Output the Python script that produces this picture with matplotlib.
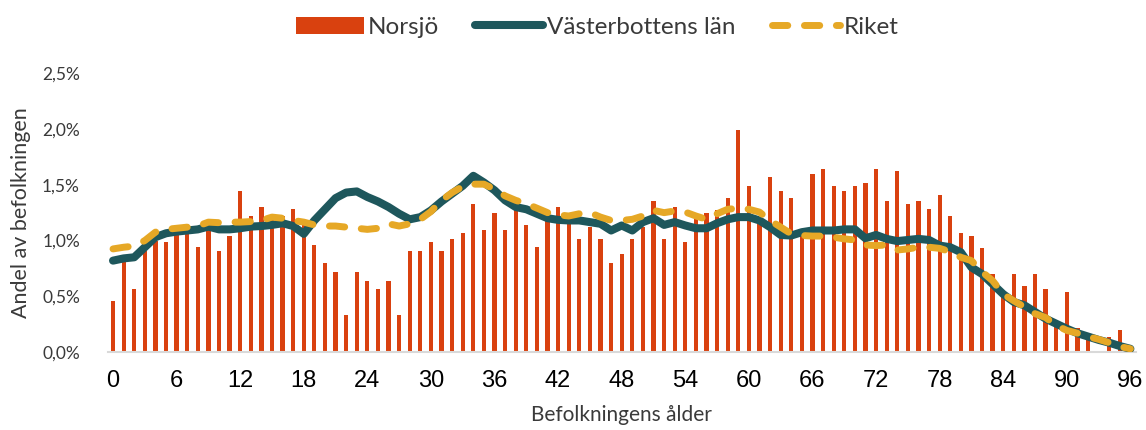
import matplotlib.pyplot as plt
from matplotlib.ticker import FuncFormatter

plt.rcParams.update({
    "font.family": ["Lato", "DejaVu Sans"],
})

RED = "#D9410F"
TEAL = "#1E575C"
GOLD = "#E6A826"
TEXT = "#3A3A3A"

ages = list(range(97))

# andel av befolkningen i procent, per ålder 0-96
norsjo = [
    0.46, 0.81, 0.565, 0.91, 1.00, 0.985, 1.06, 1.08, 0.94, 1.11,
    0.91, 1.04, 1.44, 1.22, 1.30, 1.21, 1.22, 1.28, 1.15, 0.96,
    0.80, 0.72, 0.33, 0.72, 0.64, 0.565, 0.64, 0.33, 0.91, 0.91,
    0.985, 0.91, 1.015, 1.065, 1.33, 1.095, 1.25, 1.095, 1.27, 1.14,
    0.94, 1.20, 1.30, 1.20, 1.015, 1.12, 1.015, 0.80, 0.88, 1.015,
    1.12, 1.355, 1.015, 1.30, 0.985, 1.25, 1.25, 1.27, 1.38, 1.99,
    1.485, 1.20, 1.565, 1.44, 1.38, 1.05, 1.595, 1.645, 1.485, 1.44,
    1.485, 1.515, 1.645, 1.355, 1.62, 1.33, 1.355, 1.28, 1.41, 1.22,
    1.065, 1.04, 0.935, 0.70, 0.55, 0.70, 0.59, 0.70, 0.565, 0.25,
    0.54, 0.22, 0.17, 0.0, 0.14, 0.195, 0.03,
]

vasterbotten = [
    0.82, 0.84, 0.85, 0.94, 1.03, 1.065, 1.08, 1.09, 1.10, 1.125,
    1.10, 1.10, 1.11, 1.125, 1.13, 1.14, 1.155, 1.13, 1.06, 1.18,
    1.28, 1.38, 1.43, 1.44, 1.39, 1.35, 1.30, 1.24, 1.19, 1.21,
    1.27, 1.35, 1.42, 1.49, 1.58, 1.52, 1.45, 1.36, 1.30, 1.28,
    1.24, 1.20, 1.185, 1.18, 1.18, 1.165, 1.15, 1.09, 1.135, 1.09,
    1.165, 1.20, 1.14, 1.165, 1.135, 1.11, 1.11, 1.155, 1.19, 1.21,
    1.21, 1.18, 1.12, 1.05, 1.045, 1.075, 1.09, 1.09, 1.09, 1.10,
    1.10, 1.02, 1.05, 1.015, 0.995, 1.005, 1.015, 1.005, 0.955, 0.94,
    0.895, 0.76, 0.70, 0.61, 0.52, 0.45, 0.42, 0.36, 0.30, 0.255,
    0.21, 0.17, 0.14, 0.11, 0.085, 0.055, 0.03,
]

riket = [
    0.925, 0.94, 0.95, 1.00, 1.075, 1.10, 1.11, 1.12, 1.13, 1.165,
    1.16, 1.165, 1.165, 1.17, 1.18, 1.21, 1.20, 1.18, 1.165, 1.14,
    1.13, 1.13, 1.12, 1.11, 1.10, 1.11, 1.15, 1.13, 1.15, 1.19,
    1.26, 1.36, 1.43, 1.485, 1.505, 1.505, 1.46, 1.40, 1.36, 1.33,
    1.29, 1.25, 1.23, 1.22, 1.24, 1.25, 1.21, 1.18, 1.18, 1.19,
    1.22, 1.27, 1.25, 1.265, 1.255, 1.22, 1.19, 1.24, 1.28, 1.29,
    1.28, 1.255, 1.18, 1.12, 1.06, 1.045, 1.04, 1.04, 1.03, 1.015,
    1.005, 0.96, 0.955, 0.96, 0.915, 0.925, 0.94, 0.94, 0.93, 0.90,
    0.85, 0.82, 0.72, 0.64, 0.52, 0.46, 0.405, 0.345, 0.31, 0.24,
    0.195, 0.17, 0.14, 0.115, 0.085, 0.05, 0.03,
]

fig = plt.figure(figsize=(11.46, 4.30), dpi=100)
ax = fig.add_axes([0.094, 0.181, 0.897, 0.649])

bars = ax.bar(ages, norsjo, width=0.4, color=RED, label="Norsjö", zorder=2)
(lv,) = ax.plot(ages, vasterbotten, color=TEAL, linewidth=5.8, solid_capstyle="round",
                solid_joinstyle="round", label="Västerbottens län", zorder=3)
(lr,) = ax.plot(ages, riket, color=GOLD, linewidth=5.0, dashes=(2.2, 2.4),
                dash_capstyle="round", label="Riket", zorder=4)

ax.set_xlim(-0.5, 96.5)
ax.set_ylim(0, 2.5)
ax.set_xticks(range(0, 97, 6))
ax.set_yticks([0, 0.5, 1.0, 1.5, 2.0, 2.5])
ax.yaxis.set_major_formatter(FuncFormatter(lambda v, _: f"{v:.1f}%".replace(".", ",")))

for side in ["top", "right", "left"]:
    ax.spines[side].set_visible(False)
ax.spines["bottom"].set_color("#D9D9D9")
ax.spines["bottom"].set_linewidth(1.5)
ax.tick_params(axis="both", length=0)
ax.tick_params(axis="x", labelsize=17, pad=13, labelcolor="black")
ax.tick_params(axis="y", labelsize=12.5, pad=20, labelcolor=TEXT)
for lbl in ax.get_xticklabels():
    lbl.set_fontfamily(["Liberation Sans", "DejaVu Sans"])

ax.set_xlabel("Befolkningens ålder", fontsize=15, color=TEXT, labelpad=9)
ax.set_ylabel("Andel av befolkningen", fontsize=15.5, color=TEXT, labelpad=8)

fig.legend(handles=[bars, lv, lr], loc="center", bbox_to_anchor=(0.521, 0.937),
           ncol=3, frameon=False, fontsize=17.5, handlelength=2.8, handletextpad=0.15,
           columnspacing=1.5, labelcolor=TEXT)

fig.savefig("out.png", dpi=100)
